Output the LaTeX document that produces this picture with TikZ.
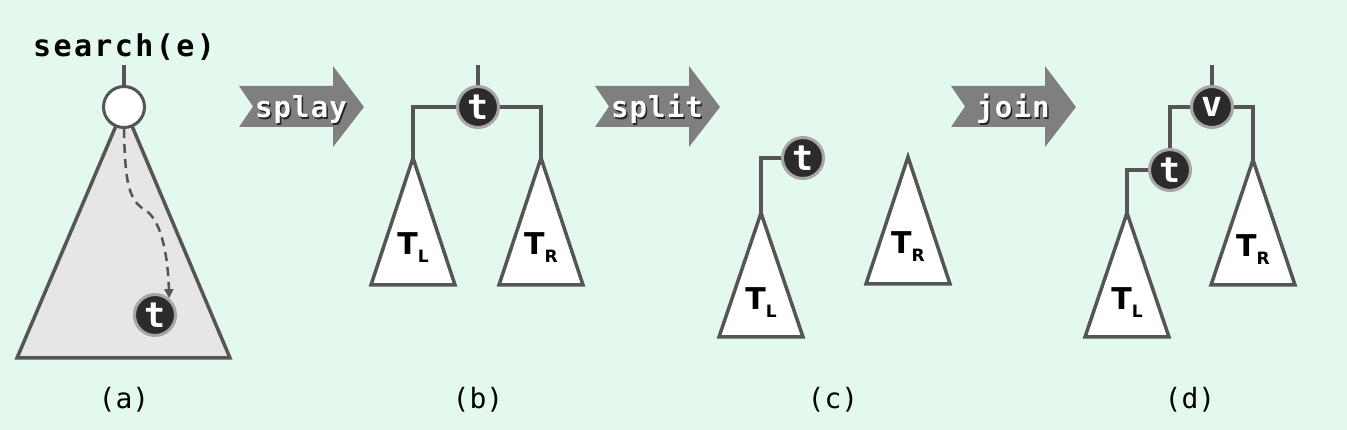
\documentclass[tikz,border=0pt]{standalone}
\usepackage{fontspec}
\setmainfont{DejaVu Sans}
\setmonofont{DejaVu Sans Mono}
\newfontfamily\codefont[LetterSpace=8]{DejaVu Sans Mono}
\newfontfamily\opfont[LetterSpace=4]{DejaVu Sans Mono}
\usetikzlibrary{positioning, arrows.meta}

\definecolor{bgmint}{RGB}{228,249,238}
\definecolor{edgegray}{RGB}{85,85,85}
\definecolor{arrowgray}{RGB}{127,127,127}
\definecolor{treegray}{RGB}{230,230,230}
\definecolor{keydark}{RGB}{43,43,43}
\definecolor{ringgray}{RGB}{166,166,166}

\newcommand{\tsub}[1]{T\raisebox{-8pt}{\fontsize{17}{17}\selectfont #1}}

\tikzset{
  edge/.style={draw=edgegray, line width=3.5pt},
  subtree/.style={edge, fill=white, line join=miter},
  keynode/.style={circle, fill=keydark, draw=ringgray, line width=3pt, minimum size=41pt, inner sep=0pt,
    text=white, font=\ttfamily\bfseries\fontsize{35}{35}\selectfont},
  rootnode/.style={circle, fill=white, draw=edgegray, line width=3pt, minimum size=41pt, inner sep=0pt},
  lbl/.style={anchor=base, inner sep=0pt, font=\bfseries\fontsize{30}{30}\selectfont},
  optext/.style={anchor=base, inner sep=0pt, text=white, font=\opfont\bfseries\fontsize{29}{29}\selectfont},
  caption/.style={anchor=base, inner sep=0pt, font=\ttfamily\fontsize{28}{28}\selectfont},
  searchpath/.style={draw=edgegray, line width=2.5pt, dash pattern=on 9pt off 6pt,
    -{Triangle[length=9pt,width=9pt]}}
}

\begin{document}
\begin{tikzpicture}[x=1pt, y=-1pt]
\fill[bgmint] (0,0) rectangle (1347,430);
\useasboundingbox (0,0) rectangle (1347,430);

% (a) search
\fill[treegray] (124,107) -- (17,358) -- (230,358) -- cycle;
\draw[edge, line join=miter] (124,107) -- (17,358) -- (230,358) -- cycle;
\node (call)[anchor=base, inner sep=0pt, font=\codefont\bfseries\fontsize{30}{30}\selectfont] at (124,57) {search(e)};
\coordinate (topA) at (124,65);
\node (root)[rootnode] at (124,107) {};
\draw[edge] (topA) -- (root.north);
\node (tA)[keynode] at (155,315) {t};
\draw[searchpath] (root.south) .. controls (125,180) and (128,200) .. (145,210)
  .. controls (162,220) and (168,258) .. (tA.50);
\node (capA)[caption] at (124,408) {(a)};

% operation arrows
\foreach \x/\op in {239/splay, 595/split, 951/join} {
  \fill[arrowgray] (\x,86) -- ++(94,0) -- ++(0,-20) -- ++(31,41) -- ++(-31,40) -- ++(0,-20)
    -- ++(-94,0) -- ++(14,-20.5) -- cycle;
  \node (sh\op)[optext, text=black!85] at (\x+63.5,119.5) {\op};
  \node (op\op)[optext] at (\x+62,118) {\op};
}

% (b) after splay
\coordinate (topB) at (478,65);
\coordinate (bL) at (413,158);
\coordinate (bR) at (541,158);
\node (tB)[keynode] at (478,107) {t};
\draw[edge] (topB) -- (tB.north);
\draw[edge] (tB.west) -| (bL);
\draw[edge] (tB.east) -| (bR);
\draw[subtree] (bL) -- ++(-42,127) -- ++(84,0) -- cycle;
\draw[subtree] (bR) -- ++(-42,127) -- ++(84,0) -- cycle;
\node (labBL)[lbl] at ([yshift=-97pt]bL) {\tsub{L}};
\node (labBR)[lbl] at ([yshift=-97pt]bR) {\tsub{R}};
\node (capB)[caption] at (478,408) {(b)};

% (c) after split
\coordinate (cL) at (761,213);
\coordinate (cR) at (908,157);
\node (tC)[keynode] at (803,158) {t};
\draw[edge] (tC.west) -| (cL);
\draw[subtree] (cL) -- ++(-42,124) -- ++(84,0) -- cycle;
\draw[subtree] (cR) -- ++(-42,127) -- ++(84,0) -- cycle;
\node (labCL)[lbl] at ([yshift=-97pt]cL) {\tsub{L}};
\node (labCR)[lbl] at ([yshift=-97pt]cR) {\tsub{R}};
\node (capC)[caption] at (833,408) {(c)};

% (d) after join
\coordinate (topD) at (1212,65);
\coordinate (dL) at (1127,213);
\coordinate (dR) at (1253,160);
\node (vD)[keynode] at (1212,107) {v};
\node (tD)[keynode] at (1170,170) {t};
\draw[edge] (topD) -- (vD.north);
\draw[edge] (vD.west) -| (tD.north);
\draw[edge] (vD.east) -| (dR);
\draw[edge] (tD.west) -| (dL);
\draw[subtree] (dL) -- ++(-42,124) -- ++(84,0) -- cycle;
\draw[subtree] (dR) -- ++(-42,125) -- ++(84,0) -- cycle;
\node (labDL)[lbl] at ([yshift=-97pt]dL) {\tsub{L}};
\node (labDR)[lbl] at ([yshift=-97pt]dR) {\tsub{R}};
\node (capD)[caption] at (1190,408) {(d)};
\end{tikzpicture}
\end{document}
